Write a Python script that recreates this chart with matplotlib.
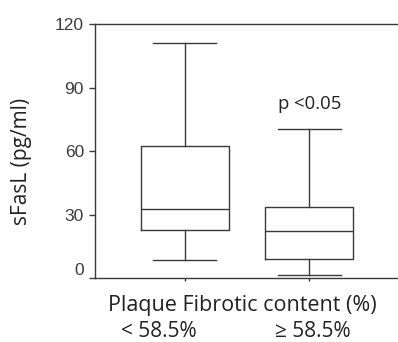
import matplotlib
matplotlib.use('Agg')
import matplotlib.pyplot as plt
import matplotlib.transforms as mtransforms

# sFasL by plaque fibrotic content
groups = ['< 58.5%', '\u2265 58.5%']
whislo = [8.7, 1.4]
q1 = [22.7, 9.1]
med = [32.7, 22.1]
q3 = [62.4, 33.8]
whishi = [111.2, 70.6]
yticks = [0, 30, 60, 90, 120]
ptext = 'p <0.05'

line_col = '#3a3a3a'
text_col = '#222222'

fig = plt.figure(figsize=(3.98, 3.42), dpi=100)
ax = fig.add_axes([95/398, 1 - 278/342, 1 - 95/398, (278 - 24.3)/342])

stats = []
for i in range(len(groups)):
    stats.append(dict(whislo=whislo[i], q1=q1[i], med=med[i], q3=q3[i],
                      whishi=whishi[i], fliers=[], label=groups[i]))
pos = [1, 2]
lp = dict(color=line_col, linewidth=1.0)
ax.bxp(stats, positions=pos, widths=0.705, capwidths=0.5, showfliers=False,
       boxprops=lp, whiskerprops=lp, capprops=lp, medianprops=lp)

ax.set_xlim(0.283, 2.71)
ax.set_ylim(0, 120)
ax.set_yticks(yticks)
ax.set_yticklabels([str(t) for t in yticks], fontsize=12.5, color='#3c3c3c',
                   family='Liberation Sans')
ax.tick_params(axis='y', length=4, width=1.0, color=line_col, pad=4)
ax.set_xticks(pos)
ax.set_xticklabels(['', ''])
ax.tick_params(axis='x', length=2, width=1.0, color=line_col)
for s in ['top', 'left', 'bottom']:
    ax.spines[s].set_color(line_col)
    ax.spines[s].set_linewidth(1.0)
ax.spines['right'].set_visible(False)

# the "0" label sits a little above its tick
lab0 = ax.get_yticklabels()[0]
lab0.set_transform(lab0.get_transform() +
                   mtransforms.ScaledTranslation(0, 9/100, fig.dpi_scale_trans))

tf = 'Open Sans'
ax.set_ylabel('sFasL (pg/ml)', fontsize=15, family=tf, color=text_col)
ax.yaxis.set_label_coords((32 - 95)/303, (278 - 161)/253.7)

ax.text(0.487, (278 - 311)/253.7, 'Plaque Fibrotic content (%)', transform=ax.transAxes,
        ha='center', va='baseline', fontsize=15.5, family=tf, color=text_col)

# category labels under the axis title
trans = mtransforms.blended_transform_factory(ax.transData, ax.transAxes)
shifts = [-26, 3]
for i, g in enumerate(groups):
    t = trans + mtransforms.ScaledTranslation(shifts[i]/100, 0, fig.dpi_scale_trans)
    ax.text(pos[i], (278 - 337)/253.7, g, transform=t, ha='center', va='baseline',
            fontsize=15, family=tf, color=text_col)

ax.text(pos[1], whishi[1] + 7.5, ptext, ha='center', va='bottom', fontsize=13.3,
        family=tf, color=text_col)

fig.savefig('out.png', dpi=100)
